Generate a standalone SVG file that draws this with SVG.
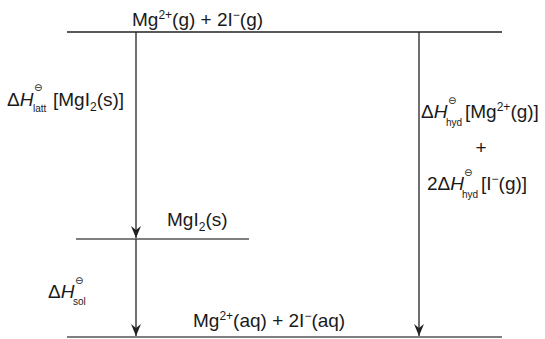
<svg xmlns="http://www.w3.org/2000/svg" width="545" height="339" viewBox="0 0 545 339">
<defs>
<marker id="ah" markerWidth="12" markerHeight="10" refX="12" refY="5" orient="auto" markerUnits="userSpaceOnUse" viewBox="0 0 12 10">
<path d="M0,0 L4,5 L0,10 L12,5 Z" fill="#222"/>
</marker>
<style>
text{font-family:"Liberation Sans",Arial,sans-serif;fill:#1a1a1a;font-size:19px}
.sm{font-size:12px}
.sub{font-size:10px}
.pl{font-size:10px;font-family:"DejaVu Sans",sans-serif}
.it{font-style:italic}
.lvl{stroke:#555;stroke-width:1.5;fill:none}
.top{stroke:#222;stroke-width:1.5;fill:none}
.arr{stroke:#222;stroke-width:1.3;fill:none}
</style>
</defs>
<g id="level-gas">
<line class="top" x1="67" y1="32" x2="502" y2="32"/>
<text x="132" y="26">Mg<tspan class="sm" dy="-7">2+</tspan><tspan dy="7">(g) + 2I</tspan><tspan class="sm" dy="-7">−</tspan><tspan dy="7">(g)</tspan></text>
</g>
<g id="level-solid">
<line class="lvl" x1="76" y1="239" x2="249" y2="239"/>
<text x="167" y="226">MgI<tspan class="sm" dy="5">2</tspan><tspan dy="-5">(s)</tspan></text>
</g>
<g id="level-aq">
<line class="lvl" x1="67" y1="337" x2="502" y2="337"/>
<text x="193" y="327">Mg<tspan class="sm" dy="-7">2+</tspan><tspan dy="7">(aq) + 2I</tspan><tspan class="sm" dy="-7">−</tspan><tspan dy="7">(aq)</tspan></text>
</g>
<g id="connectors">
<line class="arr" x1="136" y1="32" x2="136" y2="238" marker-end="url(#ah)"/>
<line class="arr" x1="136" y1="239" x2="136" y2="336" marker-end="url(#ah)"/>
<line class="arr" x1="419" y1="32" x2="419" y2="336" marker-end="url(#ah)"/>
</g>
<g id="label-latt">
<text x="7" y="106">Δ<tspan class="it">H</tspan></text>
<text class="pl" x="34" y="91">⊖</text>
<text class="sub" x="33" y="112">latt</text>
<text x="53" y="106">[MgI<tspan class="sm" dy="5">2</tspan><tspan dy="-5">(s)]</tspan></text>
</g>
<g id="label-hyd">
<text x="421" y="118">Δ<tspan class="it">H</tspan></text>
<text class="pl" x="448" y="104">⊖</text>
<text class="sub" x="446" y="126">hyd</text>
<text x="465" y="118">[Mg<tspan class="sm" dy="-7">2+</tspan><tspan dy="7">(g)]</tspan></text>
<text x="481" y="154" text-anchor="middle">+</text>
<text x="427" y="190">2Δ<tspan class="it">H</tspan></text>
<text class="pl" x="464" y="176">⊖</text>
<text class="sub" x="462" y="198">hyd</text>
<text x="481" y="190">[I<tspan class="sm" dy="-7">−</tspan><tspan dy="7">(g)]</tspan></text>
</g>
<g id="label-sol">
<text x="48" y="298">Δ<tspan class="it">H</tspan></text>
<text class="pl" x="75" y="284">⊖</text>
<text class="sub" x="73" y="305">sol</text>
</g>
</svg>
